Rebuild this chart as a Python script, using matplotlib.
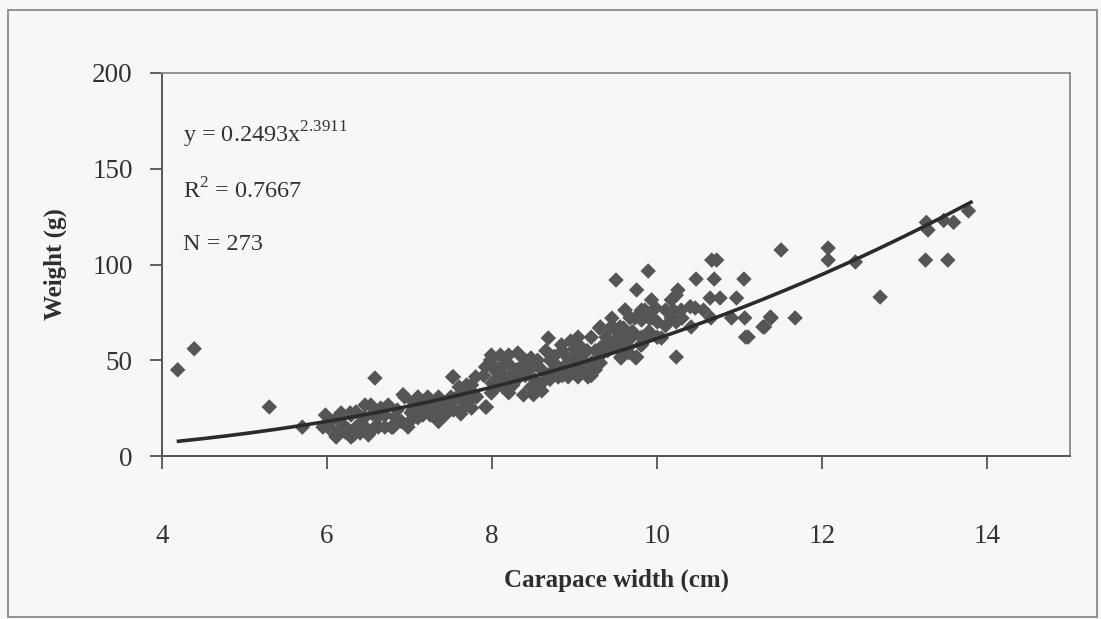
import matplotlib
matplotlib.use("Agg")
import matplotlib.pyplot as plt
import numpy as np
from matplotlib.patches import Rectangle

# ---- data ----
width_cm = [
    4.19, 4.39, 5.30, 6.58,
    5.70, 5.98, 5.95, 6.11, 6.22, 6.29, 6.13, 6.29, 6.41, 6.53, 6.58, 6.70, 6.70, 6.80,
    6.98, 6.17, 6.28, 6.01, 6.46, 6.62, 6.74, 6.82, 6.10, 6.32, 6.92, 6.78, 6.46, 6.35, 6.62,
    6.94, 7.10, 7.22, 7.35, 7.50, 7.04, 7.16, 7.31, 7.43, 7.53, 7.67, 7.53, 7.68, 7.79, 7.92,
    7.98, 8.04, 7.07, 7.02, 7.19, 7.40, 7.52, 7.69, 7.80, 7.60, 7.25, 7.45, 7.00, 7.15, 7.62,
    7.99, 8.10, 8.20, 8.31, 8.47, 7.92, 7.75, 7.81, 7.93, 7.99, 8.38, 8.47, 8.13, 8.68,
    8.80, 8.92, 9.08, 9.20, 9.16, 9.04, 8.92, 8.80, 8.35, 8.11, 8.23, 8.52, 8.68, 8.84, 9.04,
    9.31, 9.44, 9.55, 9.61, 9.81, 9.73, 9.32, 9.41, 9.53, 9.65, 9.81, 9.31, 9.56, 9.74,
    8.60, 8.70, 8.90, 9.00, 8.50, 8.40, 8.15, 8.25, 8.05, 8.60, 8.75, 9.10, 9.25, 9.00, 8.95,
    9.20, 9.30,
    8.00, 8.10, 8.20, 8.30, 8.05, 8.20, 8.30, 8.40, 8.45, 8.15, 7.90, 8.00,
    8.55, 8.65, 8.75, 8.85, 8.90, 9.00, 9.05, 9.10, 9.15, 9.25, 8.85, 8.95, 9.20, 8.70,
    8.60, 8.50,
    6.05, 6.20, 6.35, 6.45, 6.55, 6.65, 6.85, 6.90, 6.25, 6.40, 6.50, 6.15,
    7.05, 7.20, 7.30, 7.40, 7.50, 7.55, 7.65, 7.70, 7.75, 7.35, 7.10, 7.60,
    9.40, 9.50, 9.60, 9.70, 9.80, 9.90, 10.00, 10.10, 10.20, 10.30, 9.45, 9.90, 10.00,
    10.40, 9.55, 9.65,
    11.50, 10.66, 10.72, 9.89, 9.50, 10.47, 10.69, 11.05, 9.75, 10.25, 9.93, 10.17, 10.23,
    10.64, 10.76, 10.96, 9.61, 9.85, 9.98, 10.10, 10.29, 10.46, 10.56, 9.67, 9.81, 9.93,
    10.17, 10.23, 10.65, 10.90, 11.06, 11.38, 11.67, 11.30, 9.30, 9.47, 9.59, 10.41, 9.38,
    9.53, 9.68, 9.85, 10.05, 9.81, 11.07, 9.56, 9.75, 10.23,
    12.07, 12.07, 12.40, 12.70, 11.37, 11.28, 11.10, 13.28, 13.26, 13.47, 13.59, 13.77,
    13.25, 13.52,
]
weight_g = [
    45.0, 56.0, 25.6, 40.7,
    15.1, 21.4, 15.1, 9.9, 12.5, 9.9, 20.4, 21.4, 17.2, 26.6, 15.1, 21.4, 15.1, 15.1,
    15.1, 22.5, 22.5, 15.1, 15.1, 15.1, 26.6, 20.4, 11.0, 11.0, 32.0, 15.1, 26.6, 23.0, 20.4,
    30.8, 30.8, 30.8, 30.8, 30.8, 24.0, 21.4, 24.0, 21.4, 24.0, 25.6, 41.3, 36.0, 31.9, 25.6,
    50.1, 39.7, 27.0, 22.5, 26.0, 27.0, 41.3, 37.1, 41.3, 30.0, 21.4, 28.0, 18.0, 27.0, 22.0,
    52.7, 52.7, 52.7, 53.8, 51.2, 46.5, 37.1, 30.8, 25.6, 32.9, 31.9, 36.0, 36.0, 42.3,
    46.5, 51.2, 52.7, 48.6, 41.3, 41.3, 41.3, 41.3, 46.5, 46.5, 42.3, 39.7, 61.6, 58.0, 62.1,
    67.4, 67.4, 67.4, 76.2, 76.2, 72.1, 56.9, 60.6, 62.1, 56.9, 62.1, 48.6, 51.2, 51.2,
    45.0, 50.0, 45.0, 47.0, 47.0, 42.0, 40.0, 37.0, 44.0, 38.0, 52.0, 45.0, 55.0, 56.0, 60.0,
    62.0, 52.0,
    48.0, 44.0, 48.0, 45.0, 36.0, 33.0, 40.0, 50.0, 45.0, 50.0, 42.0, 38.0,
    50.0, 55.0, 45.0, 55.0, 48.0, 52.0, 58.0, 50.0, 55.0, 45.0, 42.0, 44.0, 42.0, 40.0,
    34.0, 32.0,
    18.0, 16.0, 15.0, 20.0, 22.0, 25.0, 24.0, 18.0, 14.0, 12.0, 11.0, 14.0,
    28.0, 24.0, 28.0, 24.0, 26.0, 30.0, 33.0, 28.0, 25.0, 18.0, 20.0, 36.0,
    55.0, 58.0, 62.0, 65.0, 58.0, 65.0, 70.0, 68.0, 76.0, 72.0, 72.0, 72.0, 62.0,
    78.0, 56.0, 54.0,
    107.6, 102.3, 102.3, 96.6, 91.9, 92.4, 92.4, 92.4, 86.7, 86.7, 81.5, 81.5, 84.0,
    82.5, 82.5, 82.5, 76.2, 76.2, 77.3, 76.2, 76.2, 77.3, 76.2, 72.1, 71.0, 72.1,
    72.1, 70.0, 72.1, 72.1, 72.1, 72.1, 72.1, 67.4, 66.8, 66.8, 66.8, 67.4, 62.1,
    60.6, 61.6, 60.6, 61.6, 58.0, 62.1, 51.7, 51.7, 51.7,
    108.6, 102.3, 101.3, 83.0, 72.6, 67.4, 62.1, 118.0, 122.0, 123.0, 122.0, 128.0,
    102.3, 102.3,
]

# power trendline shown on the chart
coef_a = 0.2493
coef_b = 2.3911
fit_range = [4.2, 13.8]

x_ticks = [4, 6, 8, 10, 12, 14]
y_ticks = [0, 50, 100, 150, 200]

# ---- figure ----
W, H = 1101, 619
fig = plt.figure(figsize=(W / 100, H / 100), dpi=100)
bg = "#f7f7f7"
fig.patch.set_facecolor(bg)
plt.rcParams["font.family"] = ["Liberation Serif", "DejaVu Serif"]

# outer chart frame
fig.add_artist(Rectangle((8 / W, 1 - 617 / H), (1097 - 8) / W, (617 - 10) / H,
                         transform=fig.transFigure, fill=False, edgecolor="#8a8a8a",
                         linewidth=1.3))

ax = fig.add_axes([162 / W, 1 - 456 / H, (1070 - 162) / W, (456 - 73) / H])
ax.set_facecolor(bg)

ax.scatter(width_cm, weight_g, marker="D", s=62, color="#555555", edgecolors="none",
           zorder=3)

xf = np.linspace(fit_range[0], fit_range[1], 200)
ax.plot(xf, coef_a * xf ** coef_b, color="#2b2b2b", linewidth=2.6, zorder=4)

ax.set_xlim(4, 15)
ax.set_ylim(0, 200)
ax.set_xticks(x_ticks)
ax.set_yticks(y_ticks)

for s in ["left", "bottom"]:
    ax.spines[s].set_color("#555555")
    ax.spines[s].set_linewidth(1.4)
for s in ["top", "right"]:
    ax.spines[s].set_color("#8a8a8a")
    ax.spines[s].set_linewidth(1.3)

ax.tick_params(axis="both", direction="out", length=9, width=1.3, color="#555555",
               labelsize=19.5, labelcolor="#333333")
ax.tick_params(axis="x", pad=40)
ax.tick_params(axis="y", pad=12)

ax.set_xlabel("Carapace width (cm)", fontsize=18, fontweight="bold", color="#2e2e2e",
              labelpad=14)
ax.set_ylabel("Weight (g)", fontsize=18, fontweight="bold", color="#2e2e2e", labelpad=18)

tx = dict(transform=ax.transAxes, fontsize=17.5, color="#333333", va="center", ha="left")
ax.text(21 / 908, 1 - (135 - 73) / 383, r"y = 0.2493x$^{\mathregular{2.3911}}$", **tx)
ax.text(21 / 908, 1 - (191 - 73) / 383, r"R$^{\mathregular{2}}$ = 0.7667", **tx)
ax.text(21 / 908, 1 - (245 - 73) / 383, "N = 273", **tx)

fig.savefig("out.png", dpi=100, facecolor=bg)
